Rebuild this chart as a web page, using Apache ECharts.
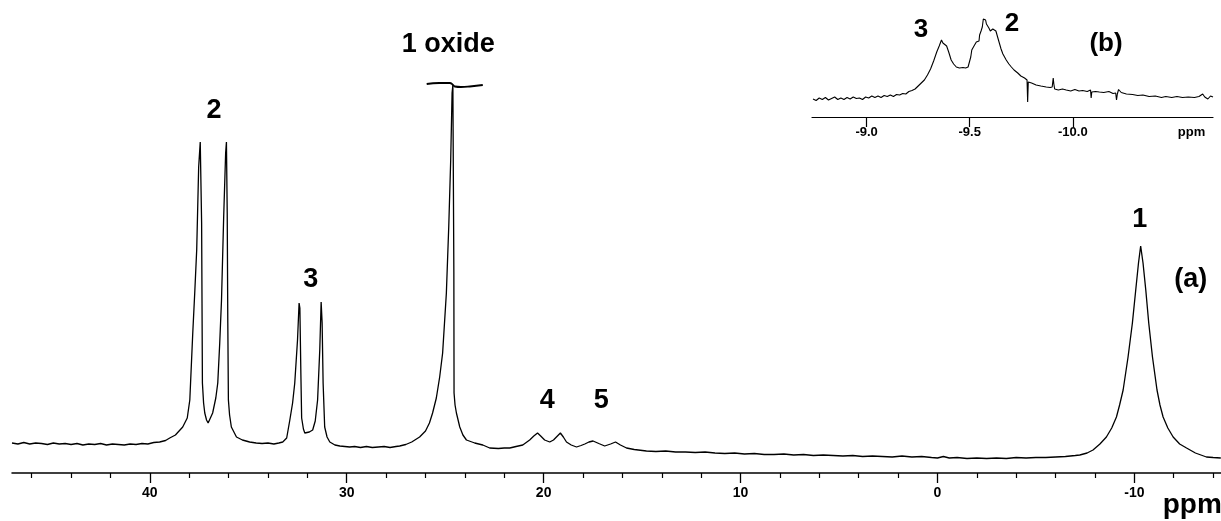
<!DOCTYPE html>
<html><head><meta charset="utf-8">
<script src="https://cdn.jsdelivr.net/npm/echarts@6/dist/echarts.min.js"></script>
<style>html,body{margin:0;padding:0;background:#fff}#c{width:1221px;height:521px}</style>
</head><body><div id="c"></div>
<script>
// Main spectrum (a): [ppm, intensity]
const mainSpectrum = [
[47.0,30],[46.7,29],[46.4,30.5],[46.1,29],[45.8,30],[45.5,29.5],[45.2,28.5],[44.9,30],[44.6,29],[44.3,29.5],
[44.0,28.5],[43.7,29.5],[43.4,28],[43.1,29],[42.8,28.5],[42.5,29.5],[42.2,28],[41.9,29],[41.6,28.5],[41.3,28],
[41.0,29],[40.7,28.5],[40.4,29.5],[40.1,29],[39.8,30.5],[39.5,31],[39.2,32.5],[38.99,35],[38.7,38],[38.33,46],
[38.1,55],[37.97,73],[37.82,140],[37.72,180],[37.62,223],[37.52,306],[37.44,331],[37.40,331],[37.37,250],[37.33,90],
[37.27,70],[37.21,60],[37.12,53],[37.04,50],[36.95,52],[36.81,60],[36.65,75],[36.55,90],[36.45,130],[36.36,173],
[36.25,256],[36.15,320],[36.11,331],[36.07,260],[36.04,150],[36.01,73],[35.95,58],[35.86,46],[35.60,36],[35.3,33],
[34.93,31],[34.6,30],[34.3,29.5],[34.0,30],[33.7,29],[33.45,30],[33.25,31],[33.05,35],[32.89,53],[32.75,70],
[32.64,90],[32.50,133],[32.42,170],[32.38,165],[32.33,100],[32.29,55],[32.2,44],[32.13,40],[32.05,40],[31.9,41],
[31.73,43],[31.6,52],[31.48,73],[31.37,123],[31.30,171],[31.25,150],[31.20,90],[31.12,46],[31.0,36],[30.86,31],
[30.6,28],[30.35,27],[30.1,26.5],[29.85,26],[29.6,26.5],[29.3,25.5],[29.0,26.5],[28.7,25.5],[28.4,26],[28.1,26.5],
[27.8,25.5],[27.5,26.5],[27.31,27],[27.0,28.5],[26.7,31],[26.30,36],[26.0,42],[25.8,50],[25.64,60],[25.45,75],
[25.28,96],[25.13,120],[24.94,180],[24.82,246],[24.72,313],[24.65,380],[24.61,388],[24.58,388],[24.56,200],[24.55,80],
[24.50,68],[24.43,60],[24.26,46],[24.1,38],[23.92,33],[23.5,30],[23.09,28],[22.74,25],[22.3,24.5],[22.0,25],
[21.72,25],[21.4,26.5],[21.06,28],[20.85,31],[20.71,33],[20.5,37],[20.31,40],[20.15,37],[19.95,33],[19.69,31],
[19.5,33],[19.35,36],[19.15,40],[19.0,36],[18.84,31],[18.6,28],[18.33,26],[18.1,27.5],[17.91,29],[17.7,31],
[17.49,32],[17.2,29.5],[16.90,27],[16.6,29],[16.35,31],[16.1,28],[15.79,25],[15.4,23.5],[14.78,22],[14.3,21.5],
[13.8,22],[13.3,21],[12.8,21],[12.3,20.5],[11.8,21],[11.3,20],[10.8,19.5],[10.3,20],[9.8,19],[9.3,19.5],
[8.8,18.5],[8.3,18.5],[7.8,19],[7.3,18],[6.8,18.5],[6.3,17.5],[5.8,18],[5.3,17.5],[4.8,17],[4.3,17.5],
[3.8,16.5],[3.3,17],[2.8,16.5],[2.3,16],[1.8,17],[1.3,16],[0.8,16.5],[0.3,15.5],[0,15],[-0.3,16.5],
[-0.6,15],[-1.0,15.5],[-1.5,14.5],[-2.0,15],[-2.5,14.5],[-3.0,15],[-3.5,14.5],[-4.0,15.5],[-4.5,15],[-5.0,15.5],
[-5.5,15.5],[-6.0,16],[-6.5,16.5],[-7.0,17.5],[-7.23,18],[-7.6,20],[-7.90,23],[-8.25,29],[-8.58,36],[-8.85,45],
[-9.09,56],[-9.25,68],[-9.43,83],[-9.68,116],[-9.90,150],[-10.07,183],[-10.21,210],[-10.32,227],[-10.44,210],[-10.58,183],
[-10.73,150],[-10.92,116],[-11.15,83],[-11.30,68],[-11.46,56],[-11.7,45],[-11.97,36],[-12.3,29],[-12.65,25],[-13.1,20],
[-13.66,16],[-14.0,15.5],[-14.39,15]
];
// Truncation mark on top of the clipped "1 oxide" peak
const oxideCap = [[25.94,389],[25.3,390],[24.77,390],[24.6,388],[24.51,386.5],[24.2,386],[23.75,386.5],[23.09,388]];

// Inset spectrum (b): [ppm, intensity]
const insetSpectrum = [
[-8.740,18],[-8.755,16.5],[-8.770,19],[-8.785,17.5],[-8.800,19.5],[-8.815,17],[-8.830,18.5],[-8.845,20],[-8.860,17.5],[-8.875,19],
[-8.890,17.5],[-8.905,19.5],[-8.920,18],[-8.935,20],[-8.950,18.5],[-8.965,19],[-8.980,17.5],[-8.995,20],[-9.010,19],[-9.025,21],
[-9.040,19.5],[-9.055,21],[-9.070,19.5],[-9.085,21.5],[-9.100,20.5],[-9.115,22],[-9.130,20.5],[-9.145,22.5],[-9.160,22],[-9.175,23.5],
[-9.190,23],[-9.205,25.5],[-9.220,26.5],[-9.235,28],[-9.250,31],[-9.265,34],[-9.280,37],[-9.295,42],[-9.310,48],[-9.325,56],
[-9.340,65],[-9.352,71],[-9.363,77],[-9.370,74],[-9.378,76],[-9.388,71],[-9.398,65],[-9.410,57],[-9.422,53],[-9.435,50],
[-9.450,49],[-9.467,49.5],[-9.480,49],[-9.492,50],[-9.500,52],[-9.505,60],[-9.510,67],[-9.518,70],[-9.525,72],[-9.532,75],
[-9.540,77],[-9.545,76],[-9.548,82],[-9.555,86],[-9.561,90],[-9.566,98],[-9.569,100],[-9.573,96],[-9.577,97],[-9.581,93],
[-9.587,91],[-9.593,89],[-9.600,86],[-9.605,85],[-9.612,88],[-9.621,89],[-9.627,86],[-9.632,85],[-9.638,78],[-9.645,73],
[-9.652,68],[-9.661,63],[-9.668,61],[-9.677,57],[-9.690,53],[-9.702,50],[-9.715,47],[-9.733,44],[-9.748,41],[-9.766,39],
[-9.778,37],[-9.781,15],[-9.784,35],[-9.800,34],[-9.822,32],[-9.845,31],[-9.871,30],[-9.890,29.5],[-9.900,30],[-9.905,39],
[-9.908,33],[-9.912,28],[-9.930,27],[-9.950,28],[-9.968,27],[-9.990,26],[-10.010,27.5],[-10.030,26],[-10.048,26.5],[-10.070,25.5],
[-10.086,27],[-10.089,19],[-10.092,25],[-10.110,25.5],[-10.129,25],[-10.150,24.5],[-10.175,25.5],[-10.195,23.5],[-10.208,24],[-10.212,17],
[-10.216,23],[-10.222,27.5],[-10.235,24.5],[-10.260,23],[-10.290,22.5],[-10.315,21.5],[-10.340,22],[-10.370,20.5],[-10.400,21],[-10.430,19.5],
[-10.451,20.5],[-10.480,19.5],[-10.505,20.5],[-10.532,19.5],[-10.560,20],[-10.590,19.5],[-10.612,20.5],[-10.630,23],[-10.640,20],[-10.655,18],
[-10.668,21],[-10.680,20]
];

// Axis ticks and labels
const mainMajorTicks = [40,30,20,10,0,-10];
const mainMinorTicks = [46,44,42,38,36,34,32,28,26,24,22,18,16,14,12,8,6,4,2,-2,-4,-6,-8,-12,-14];
const mainUnitPos = [-12.94];
const insetTicks = [-9.0,-9.5,-10.0];
const insetUnitPos = [-10.576];

// Peak annotations: [text, ppm, intensity]
const mainLabels = [['2',36.74,362],['3',31.83,193],['1 oxide',24.85,428],['4',19.82,72],['5',17.07,72],['1',-10.27,253],['(a)',-12.86,193]];
const insetLabels = [['3',-9.263,87.5],['2',-9.705,93.4],['(b)',-10.161,73]];

const FONT = '"Liberation Sans", Arial, sans-serif';
const chart = echarts.init(document.getElementById('c'), null, {renderer:'canvas'});

const lblSeries = (arr, xi, yi, size) => ({
  type:'scatter', xAxisIndex:xi, yAxisIndex:yi, symbolSize:0, silent:true,
  itemStyle:{color:'#000', opacity:1},
  data: arr.map(d => ({name:d[0], value:[d[1], d[2]]})),
  label:{show:true, position:'inside', formatter:p=>p.name, color:'#000', opacity:1,
    textBorderWidth:0, fontFamily:FONT, fontWeight:'bold', fontSize:size},
  clip:false,
  z:10
});

chart.setOption({
  animation:false,
  backgroundColor:'#fff',
  grid:[
    {left:12, right:0, top:0, bottom:48, containLabel:false, outerBoundsMode:'none'},
    {left:812, right:8, top:5, bottom:404, containLabel:false, outerBoundsMode:'none'}
  ],
  xAxis:[
    {type:'value', gridIndex:0, min:-14.4, max:47, inverse:true, position:'bottom',
     axisLine:{show:true, lineStyle:{color:'#000', width:1.5}},
     axisTick:{show:true, customValues:mainMajorTicks, length:10, lineStyle:{color:'#000', width:1.3}},
     axisLabel:{show:true, customValues:mainMajorTicks, margin:13, color:'#000', fontFamily:FONT, fontWeight:'bold', fontSize:14,
       formatter:v=>String(v)},
     splitLine:{show:false}},
    {type:'value', gridIndex:0, min:-14.4, max:47, inverse:true, position:'bottom',
     axisLine:{show:false},
     axisTick:{show:true, customValues:mainMinorTicks, length:5, lineStyle:{color:'#000', width:1.2}},
     axisLabel:{show:true, customValues:mainUnitPos, margin:18, color:'#000', fontFamily:FONT, fontWeight:'bold', fontSize:28,
       formatter:()=>'ppm'},
     splitLine:{show:false}},
    {type:'value', gridIndex:1, min:-10.68, max:-8.735, inverse:true, position:'bottom',
     axisLine:{show:true, lineStyle:{color:'#000', width:1.2}},
     axisTick:{show:true, customValues:insetTicks, length:10, lineStyle:{color:'#000', width:1.2}},
     axisLabel:{show:true, customValues:insetTicks.concat(insetUnitPos), margin:9, color:'#000', fontFamily:FONT, fontWeight:'bold', fontSize:13,
       formatter:v=> v < -10.5 ? 'ppm' : v.toFixed(1)},
     splitLine:{show:false}}
  ],
  yAxis:[
    {type:'value', gridIndex:0, min:0, max:473, show:false},
    {type:'value', gridIndex:1, min:0, max:112, show:false}
  ],
  series:[
    {type:'line', xAxisIndex:0, yAxisIndex:0, data:mainSpectrum, showSymbol:false, symbol:'none',
     lineStyle:{color:'#000', width:1.3}, silent:true, clip:false},
    {type:'line', xAxisIndex:0, yAxisIndex:0, data:oxideCap, showSymbol:false, symbol:'none', smooth:true,
     lineStyle:{color:'#000', width:1.8}, silent:true, clip:false},
    {type:'line', xAxisIndex:2, yAxisIndex:1, data:insetSpectrum, showSymbol:false, symbol:'none',
     lineStyle:{color:'#000', width:1.1}, silent:true, clip:false},
    lblSeries(mainLabels, 0, 0, 27),
    lblSeries(insetLabels, 2, 1, 26)
  ]
});
</script></body></html>
